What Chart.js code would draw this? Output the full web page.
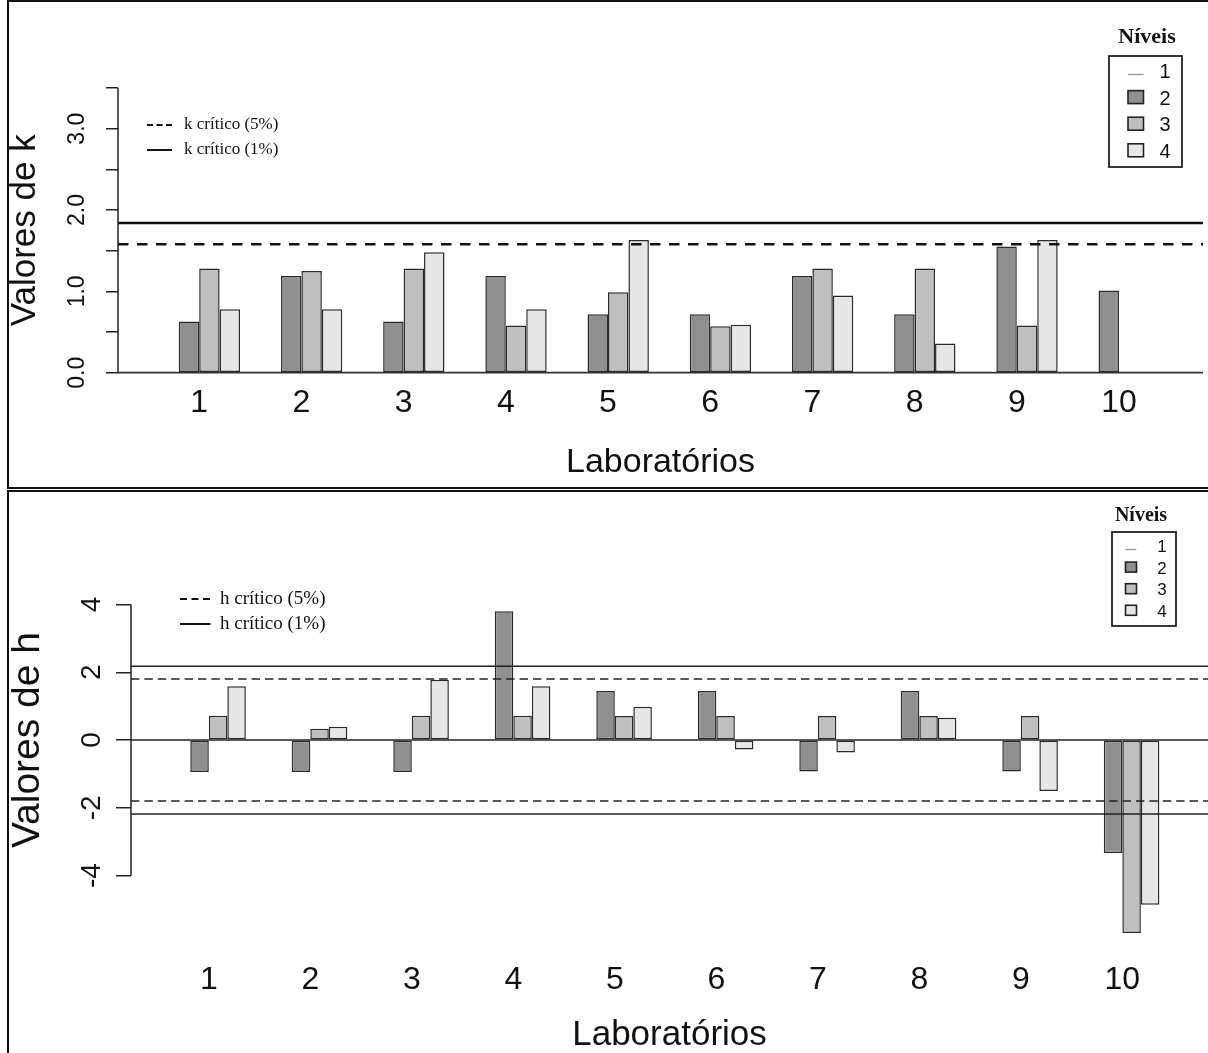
<!DOCTYPE html>
<html>
<head>
<meta charset="utf-8">
<script src="https://cdn.jsdelivr.net/npm/chart.js@4.4.1/dist/chart.umd.min.js"></script>
<style>
  html, body { margin: 0; padding: 0; background: #fff; overflow: hidden; width: 1208px; height: 1053px; }
  canvas { position: absolute; left: 0; }
  #kChart { top: 0; }
  #hChart { top: 490px; }
  .bd { position: absolute; background: #111; }
</style>
</head>
<body>
<canvas id="kChart" width="1208" height="488"></canvas>
<canvas id="hChart" width="1208" height="570"></canvas>
<div class="bd" style="left:7px;top:0;width:1201px;height:2px"></div>
<div class="bd" style="left:7px;top:0;width:2px;height:489px"></div>
<div class="bd" style="left:7px;top:487px;width:1201px;height:2px"></div>
<div class="bd" style="left:7px;top:490px;width:1201px;height:2px"></div>
<div class="bd" style="left:7px;top:490px;width:2px;height:563px"></div>
<script>
// laboratories and levels
const labs = [1, 2, 3, 4, 5, 6, 7, 8, 9, 10];
const levels = ['1', '2', '3', '4'];
const levelFill = ['#ffffff', '#8f8f8f', '#bfbfbf', '#e6e6e6'];

// k statistic per level
const kL1 = [null, null, null, null, null, null, null, null, null, null];
const kL2 = [0.63, 1.19, 0.63, 1.19, 0.72, 0.72, 1.19, 0.72, 1.55, 1.01];
const kL3 = [1.28, 1.25, 1.28, 0.58, 0.99, 0.57, 1.28, 1.28, 0.58, null];
const kL4 = [0.78, 0.78, 1.48, 0.78, 1.63, 0.59, 0.95, 0.36, 1.63, null];
const kTicks = [0, 0.5, 1, 1.5, 2, 2.5, 3, 3.5];
const kCrit5 = 1.58;
const kCrit1 = 1.84;

// h statistic per level
const hL1 = [null, null, null, null, null, null, null, null, null, null];
const hL2 = [-0.94, -0.94, -0.94, 3.80, 1.45, 1.45, -0.93, 1.45, -0.93, -3.34];
const hL3 = [0.72, 0.33, 0.72, 0.72, 0.71, 0.71, 0.71, 0.71, 0.71, -5.69];
const hL4 = [1.59, 0.39, 1.78, 1.59, 0.98, -0.28, -0.37, 0.66, -1.50, -4.86];
const hTicks = [-4, -2, 0, 2, 4];
const hCrit5 = 1.80;
const hCrit1 = 2.18;

const SANS = 'Liberation Sans';
const SERIF = 'Liberation Serif';

// horizontal reference lines + y axis line between first and last tick
const refLines = {
  id: 'refLines',
  afterDatasetsDraw(chart, args, o) {
    const { ctx, chartArea: a } = chart;
    const y = chart.scales.y;
    ctx.save();
    for (const l of o.lines) {
      const py = y.getPixelForValue(l.value);
      ctx.beginPath();
      ctx.setLineDash(l.dash || []);
      ctx.lineWidth = l.width;
      ctx.strokeStyle = l.color;
      ctx.moveTo(a.left, py);
      ctx.lineTo(a.right, py);
      ctx.stroke();
    }
    ctx.setLineDash([]);
    ctx.lineWidth = o.axisWidth;
    ctx.strokeStyle = '#222';
    ctx.beginPath();
    ctx.moveTo(a.left, y.getPixelForValue(o.axisTicks[0]));
    ctx.lineTo(a.left, y.getPixelForValue(o.axisTicks[o.axisTicks.length - 1]));
    ctx.stroke();
    ctx.restore();
  }
};

// "Níveis" box and the critical line key
const keyBox = {
  id: 'keyBox',
  afterDraw(chart, args, o) {
    const ctx = chart.ctx;
    ctx.save();
    ctx.fillStyle = '#111';
    ctx.textAlign = 'center';
    ctx.textBaseline = 'middle';
    ctx.font = 'bold ' + o.titleSize + 'px "' + SERIF + '"';
    ctx.fillText('Níveis', o.titleX, o.titleY);
    ctx.lineWidth = 1.8;
    ctx.strokeStyle = '#222';
    ctx.strokeRect(o.box[0], o.box[1], o.box[2] - o.box[0], o.box[3] - o.box[1]);
    ctx.font = o.labelSize + 'px "' + SANS + '"';
    chart.data.datasets.forEach((ds, i) => {
      const cy = o.rowY + i * o.rowH;
      if (i === 0) {
        ctx.strokeStyle = '#a0a0a0';
        ctx.lineWidth = 1.5;
        ctx.beginPath();
        ctx.moveTo(o.swX, cy + 2);
        ctx.lineTo(o.swX + o.swW, cy + 2);
        ctx.stroke();
      } else {
        ctx.fillStyle = ds.backgroundColor;
        ctx.fillRect(o.swX, cy - 2 - o.swH / 2, o.swW, o.swH);
        ctx.strokeStyle = '#222';
        ctx.lineWidth = 1.6;
        ctx.strokeRect(o.swX, cy - 2 - o.swH / 2, o.swW, o.swH);
      }
      ctx.fillStyle = '#111';
      ctx.fillText(ds.label, o.labelX, cy);
    });
    ctx.textAlign = 'left';
    ctx.font = o.keySize + 'px "' + SERIF + '"';
    o.keys.forEach(k => {
      ctx.strokeStyle = '#111';
      ctx.lineWidth = 2;
      ctx.setLineDash(k.dash);
      ctx.beginPath();
      ctx.moveTo(o.keyX0, k.y);
      ctx.lineTo(o.keyX1, k.y);
      ctx.stroke();
      ctx.setLineDash([]);
      ctx.fillStyle = '#111';
      ctx.fillText(k.text, o.keyTextX, k.y);
    });
    ctx.restore();
  }
};

function barSets(series, pct) {
  return series.map((vals, i) => ({
    label: levels[i],
    data: labs.map((x, j) => ({ x: x, y: vals[j] })),
    backgroundColor: levelFill[i],
    borderColor: '#2a2a2a',
    borderWidth: 1.5,
    borderSkipped: false,
    categoryPercentage: pct,
    barPercentage: 1
  }));
}

function makeChart(id, p) {
  return new Chart(document.getElementById(id), {
    type: 'bar',
    data: { datasets: barSets(p.series, p.pct) },
    options: {
      responsive: false,
      animation: false,
      devicePixelRatio: 1,
      layout: { padding: { top: p.top, left: 0, right: p.right, bottom: 0 } },
      plugins: {
        legend: { display: false },
        tooltip: { enabled: false },
        refLines: p.lines,
        keyBox: p.key
      },
      scales: {
        x: {
          type: 'linear',
          min: p.xmin,
          max: p.xmax,
          offset: false,
          afterBuildTicks: s => { s.ticks = labs.map(v => ({ value: v })); },
          afterFit: s => { s.height = p.xh; },
          grid: { display: false, drawTicks: false },
          border: { display: false },
          ticks: {
            color: '#111', autoSkip: false, maxRotation: 0, padding: p.xpad,
            font: { family: SANS, size: 32 },
            callback: v => String(v)
          },
          title: {
            display: true, text: 'Laboratórios', color: '#111',
            font: { family: SANS, size: p.xtSize },
            padding: { top: 0, bottom: p.xtPad }
          }
        },
        y: {
          min: p.ymin,
          max: p.ymax,
          afterBuildTicks: s => { s.ticks = p.ticks.map(v => ({ value: v })); },
          afterFit: s => { s.width = p.left; },
          grid: { drawOnChartArea: false, drawTicks: true, tickLength: p.tl, color: '#222', tickColor: '#222', lineWidth: 1.5 },
          border: { display: false },
          ticks: {
            color: '#111', minRotation: 90, maxRotation: 90, crossAlign: 'center', padding: p.ypad,
            font: { family: SANS, size: p.ytSize },
            callback: p.yLabel
          },
          title: {
            display: true, text: p.ytitle, color: '#111', align: 'center',
            font: { family: SANS, size: p.yTitleSize },
            padding: { top: p.yTitlePad, bottom: 0 }
          }
        }
      }
    },
    plugins: [refLines, keyBox]
  });
}

makeChart('kChart', {
  series: [kL1, kL2, kL3, kL4], pct: 0.8,
  top: 76.6, right: 5, left: 118, xh: 103.9,
  xmin: 0.2055, xmax: 10.822, ymin: -0.14, ymax: 3.64, ticks: kTicks,
  xpad: 0, xtSize: 34, xtPad: 4.6,
  tl: 12, ypad: 12, ytSize: 23, yLabel: v => Number.isInteger(v) ? v.toFixed(1) : '',
  ytitle: 'Valores de k', yTitleSize: 35, yTitlePad: 4,
  lines: {
    axisTicks: kTicks, axisWidth: 1.5,
    lines: [
      { value: 0, width: 1.8, color: '#333' },
      { value: kCrit5, width: 2.6, color: '#111', dash: [10.5, 8.5] },
      { value: kCrit1, width: 2.6, color: '#111' }
    ]
  },
  key: {
    titleX: 1147, titleY: 37, titleSize: 22,
    box: [1109, 56, 1182, 167],
    rowY: 72.5, rowH: 26.6, swX: 1128, swW: 15.5, swH: 13, labelX: 1165, labelSize: 20,
    keyX0: 147, keyX1: 172, keyTextX: 184, keySize: 17,
    keys: [
      { y: 125, dash: [6, 3.5], text: 'k crítico (5%)' },
      { y: 150, dash: [], text: 'k crítico (1%)' }
    ]
  }
});

const OFF = 490;
makeChart('hChart', {
  series: [hL1, hL2, hL3, hL4], pct: 0.73,
  top: 520.4 - OFF, right: 0, left: 131, xh: 570 - (959.7 - OFF),
  xmin: 0.2335, xmax: 10.844, ymin: -6.48, ymax: 6.48, ticks: hTicks,
  xpad: 1, xtSize: 35, xtPad: 4,
  tl: 15, ypad: 11.5, ytSize: 28, yLabel: v => String(v),
  ytitle: 'Valores de h', yTitleSize: 39, yTitlePad: 5,
  lines: {
    axisTicks: hTicks, axisWidth: 1.5,
    lines: [
      { value: 0, width: 1.5, color: '#222' },
      { value: hCrit5, width: 1.6, color: '#222', dash: [8.4, 5] },
      { value: -hCrit5, width: 1.6, color: '#222', dash: [8.4, 5] },
      { value: hCrit1, width: 1.5, color: '#222' },
      { value: -hCrit1, width: 1.5, color: '#222' }
    ]
  },
  key: {
    titleX: 1141, titleY: 516 - OFF, titleSize: 20,
    box: [1112, 532 - OFF, 1176, 626 - OFF],
    rowY: 547.5 - OFF, rowH: 21.6, swX: 1125.5, swW: 11, swH: 10, labelX: 1162, labelSize: 17,
    keyX0: 180, keyX1: 210.5, keyTextX: 220, keySize: 19,
    keys: [
      { y: 599 - OFF, dash: [7, 4.5], text: 'h crítico (5%)' },
      { y: 624 - OFF, dash: [], text: 'h crítico (1%)' }
    ]
  }
});
</script>
</body>
</html>
